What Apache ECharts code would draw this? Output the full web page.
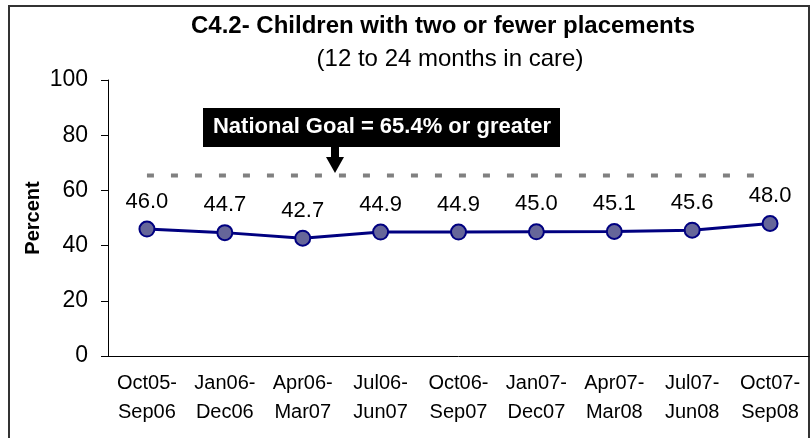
<!DOCTYPE html>
<html>
<head>
<meta charset="utf-8">
<script src="https://cdn.jsdelivr.net/npm/echarts@6/dist/echarts.min.js"></script>
<style>
  html, body { margin: 0; padding: 0; background: #fff; }
  #chart { width: 811px; height: 438px; }
</style>
</head>
<body>
<div id="chart"></div>
<script>
  // periods (two-line labels)
  var periods = ['Oct05-\nSep06', 'Jan06-\nDec06', 'Apr06-\nMar07', 'Jul06-\nJun07', 'Oct06-\nSep07',
                 'Jan07-\nDec07', 'Apr07-\nMar08', 'Jul07-\nJun08', 'Oct07-\nSep08'];
  var percentValues = [46.0, 44.7, 42.7, 44.9, 44.9, 45.0, 45.1, 45.6, 48.0];
  var nationalGoal = 65.4;
  var goalValues = periods.map(function () { return nationalGoal; });

  var font = 'Liberation Sans, Arial, sans-serif';
  var chart = echarts.init(document.getElementById('chart'));

  var option = {
    animation: false,
    textStyle: { fontFamily: font },
    grid: { left: 108, right: 2, top: 80, bottom: 82 },
    xAxis: [
      {
        type: 'category',
        data: periods,
        boundaryGap: true,
        axisLine: { lineStyle: { color: '#000', width: 1 } },
        axisTick: { inside: true, length: 4, lineStyle: { color: '#000' } },
        axisLabel: { color: '#000', fontSize: 20, lineHeight: 29, margin: 13, interval: 0 }
      },
      {
        // second tick row at the category centres
        type: 'category',
        data: periods,
        position: 'bottom',
        axisLine: { show: false },
        axisTick: { inside: true, length: 4, alignWithLabel: true, lineStyle: { color: '#000' } },
        axisLabel: { show: false }
      }
    ],
    yAxis: {
      type: 'value',
      min: 0,
      max: 100,
      interval: 20,
      name: 'Percent',
      nameLocation: 'middle',
      nameGap: 65,
      nameMoveOverlap: false,
      nameTextStyle: { color: '#000', fontSize: 20, fontWeight: 'bold' },
      axisLine: { show: true, lineStyle: { color: '#000' } },
      axisTick: { show: true, length: 7, lineStyle: { color: '#000' } },
      axisLabel: { color: '#000', fontSize: 23, margin: 20 },
      splitLine: { show: false }
    },
    series: [
      {
        name: 'National Goal',
        type: 'line',
        data: goalValues,
        symbol: 'none',
        silent: true,
        lineStyle: { color: '#808080', width: 4, type: [7, 17] }
      },
      {
        name: 'Percent',
        type: 'line',
        data: percentValues,
        symbol: 'circle',
        symbolSize: 15,
        lineStyle: { color: '#000080', width: 3 },
        itemStyle: { color: '#666699', borderColor: '#000080', borderWidth: 2 },
        label: {
          show: true,
          position: 'top',
          distance: 8,
          color: '#000',
          fontSize: 22,
          formatter: function (p) { return p.value.toFixed(1); }
        }
      }
    ],
    graphic: [
      {
        type: 'rect',
        shape: { x: 9, y: 6, width: 800, height: 440 },
        style: { fill: 'none', stroke: '#333', lineWidth: 2 },
        silent: true
      },
      {
        type: 'text',
        x: 443, y: 26,
        style: {
          text: 'C4.2- Children with two or fewer placements',
          font: 'bold 24px ' + font,
          fill: '#000', textAlign: 'center', textVerticalAlign: 'middle'
        }
      },
      {
        type: 'text',
        x: 450, y: 59,
        style: {
          text: '(12 to 24 months in care)',
          font: '24px ' + font,
          fill: '#000', textAlign: 'center', textVerticalAlign: 'middle'
        }
      },
      {
        type: 'rect',
        shape: { x: 203, y: 108, width: 357, height: 39 },
        style: { fill: '#000' }
      },
      {
        type: 'text',
        x: 382, y: 127,
        style: {
          text: 'National Goal = 65.4% or greater',
          font: 'bold 22px ' + font,
          fill: '#fff', textAlign: 'center', textVerticalAlign: 'middle'
        }
      },
      {
        type: 'rect',
        shape: { x: 331, y: 146, width: 8, height: 12 },
        style: { fill: '#000' }
      },
      {
        type: 'polygon',
        shape: { points: [[326, 157], [344, 157], [335, 173]] },
        style: { fill: '#000' }
      }
    ]
  };

  chart.setOption(option);
  window.addEventListener('resize', function () { chart.resize(); });
</script>
</body>
</html>
